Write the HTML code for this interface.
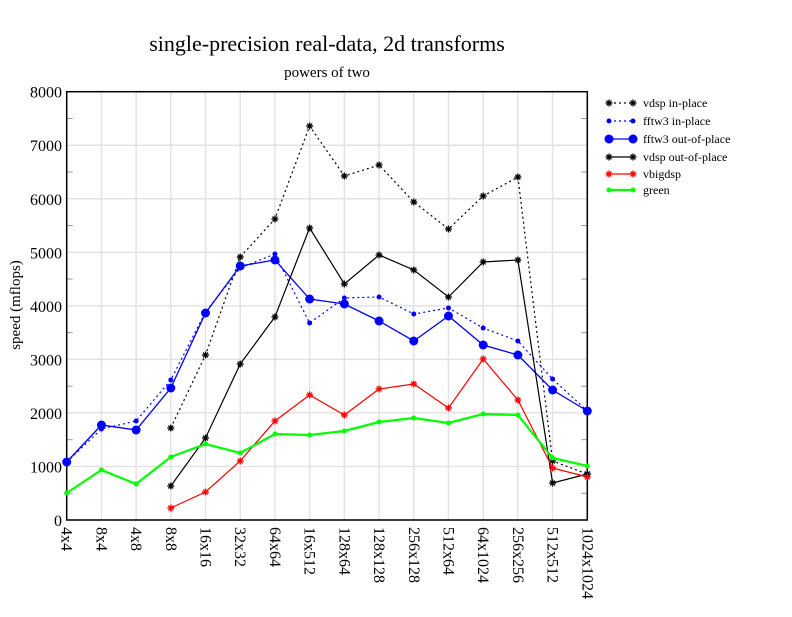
<!DOCTYPE html>
<html><head><meta charset="utf-8"><style>
html,body{margin:0;padding:0;background:#fff;}
svg,svg text{font-family:"Liberation Serif","Times New Roman",serif;}
</style></head><body>
<svg id="s" width="792" height="612" xmlns="http://www.w3.org/2000/svg" font-family="Liberation Serif, serif">
<rect width="792" height="612" fill="#fff"/>
<text x="327" y="51" font-size="22" text-anchor="middle">single-precision real-data, 2d transforms</text>
<text x="327" y="77" font-size="15" text-anchor="middle">powers of two</text>
<text transform="translate(20,305) rotate(-90)" font-size="15" text-anchor="middle">speed (mflops)</text>
<g id="grid"></g><g id="ser"></g><g id="leg"></g>
</svg>
<script>
var NS="http://www.w3.org/2000/svg",s=document.getElementById('s');
function el(t,a,p){var e=document.createElementNS(NS,t);for(var k in a)e.setAttribute(k,a[k]);(p||s).appendChild(e);return e;}
var L=66.7,R=587.3,T=91.7,B=520,dx=(R-L)/15;
var g=document.getElementById('grid');
var cats=["4x4","8x4","4x8","8x8","16x16","32x32","64x64","16x512","128x64","128x128","256x128","512x64","64x1024","256x256","512x512","1024x1024"];
for(var i=0;i<16;i++){var x=L+dx*i;el('line',{x1:x,x2:x,y1:T,y2:B,stroke:'#e3e3e3','stroke-width':1.5},g);
 var t=el('text',{transform:'translate('+(x-5)+',527) rotate(90)','font-size':16},g);t.textContent=cats[i];}
for(var v=0;v<=8;v++){var y=B-(B-T)*v/8;el('line',{x1:L,x2:R,y1:y,y2:y,stroke:'#e3e3e3','stroke-width':1.5},g);
 var t=el('text',{x:62,y:y+6,'font-size':16,'text-anchor':'end'},g);t.textContent=v*1000;
 if(v<8){var ym=y-(B-T)/16;el('line',{x1:L,x2:L+6,y1:ym,y2:ym,stroke:'#999'},g);el('line',{x1:R-6,x2:R,y1:ym,y2:ym,stroke:'#999'},g);}}
el('rect',{x:L,y:T,width:R-L,height:B-T,fill:'none',stroke:'#000','stroke-width':1.5},g);
var S=document.getElementById('ser');
function star(x,y,c,p){for(var a=0;a<4;a++){var an=a*Math.PI/4,r=3.5;el('line',{x1:x-r*Math.cos(an),y1:y-r*Math.sin(an),x2:x+r*Math.cos(an),y2:y+r*Math.sin(an),stroke:c,'stroke-width':1.3},p);}}
var series=[
 {c:'#000',d:'2,3',w:1.2,m:'star',st:3,y:[428,355,257,219,126,176,165,202,229,196,177,461,474]},
 {c:'#00f',d:'2,3',w:1.2,m:'dot',r:2.5,st:0,y:[462,429,421,380,312,268,254,323,298,297,314,308,328,341,379,411]},
 {c:'#00f',w:1.3,m:'dot',r:4.5,st:0,y:[462,425,430,388,313,266,260,299,304,321,341,316,345,355,390,411]},
 {c:'#000',w:1.2,m:'star',st:3,y:[486,438,364,317,228,284,255,270,297,262,260,483,474]},
 {c:'#f00',w:1.2,m:'star',st:3,y:[508,492,461,421,395,415,389,384,408,359,400,468,477]},
 {c:'#0f0',w:2.2,m:'dot',r:2.5,st:0,y:[493,470,484,457,444,453,434,435,431,422,418,423,414,415,458,466]}
];
series.forEach(function(q){var pts=q.y.map(function(y,i){return (L+dx*(i+q.st)).toFixed(1)+','+y;}).join(' ');
 var a={points:pts,fill:'none',stroke:q.c,'stroke-width':q.w};if(q.d)a['stroke-dasharray']=q.d;el('polyline',a,S);
 q.y.forEach(function(y,i){var x=L+dx*(i+q.st);if(q.m=='star')star(x,y,q.c,S);else el('circle',{cx:x,cy:y,r:q.r,fill:q.c},S);});});
var names=["vdsp in-place","fftw3 in-place","fftw3 out-of-place","vdsp out-of-place","vbigdsp","green"];
var ly=[103,121,139,157,174,190],G=document.getElementById('leg');
series.forEach(function(q,i){var y=ly[i];var a={x1:609,x2:633,y1:y,y2:y,stroke:q.c,'stroke-width':q.w};if(q.d)a['stroke-dasharray']=q.d;el('line',a,G);
 [609,633].forEach(function(x){if(q.m=='star')star(x,y,q.c,G);else el('circle',{cx:x,cy:y,r:q.r,fill:q.c},G);});
 var t=el('text',{x:643,y:y+4,'font-size':12},G);t.textContent=names[i];});
</script>
</body></html>
